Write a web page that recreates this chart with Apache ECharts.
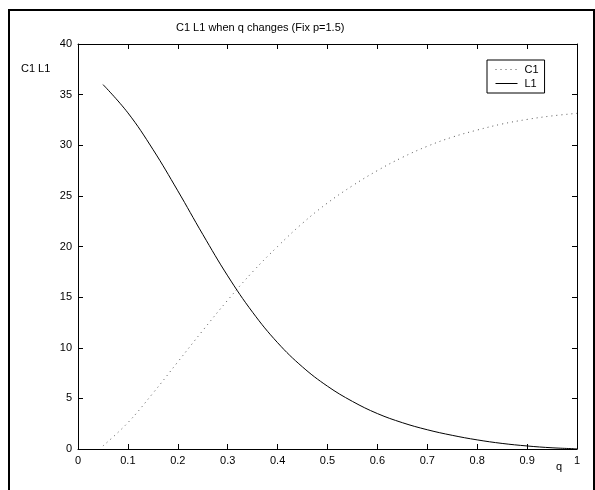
<!DOCTYPE html>
<html>
<head>
<meta charset="utf-8">
<script src="https://cdn.jsdelivr.net/npm/echarts@6/dist/echarts.min.js"></script>
<style>
  html, body { margin: 0; padding: 0; background: #fff; }
  #main { width: 595px; height: 490px; }
</style>
</head>
<body>
<div id="main"></div>
<script>
// q samples and the two curves
var qValues  = [0.05, 0.10, 0.15, 0.20, 0.25, 0.30, 0.35, 0.40, 0.45, 0.50,
                0.55, 0.60, 0.65, 0.70, 0.75, 0.80, 0.85, 0.90, 0.95, 1.00];
var c1Values = [0.3, 2.6, 5.5, 8.6, 11.7, 14.7, 17.5, 20.0, 22.3, 24.3,
                26.0, 27.5, 28.8, 29.9, 30.8, 31.5, 32.1, 32.55, 32.9, 33.15];
var l1Values = [36.0, 33.2, 29.6, 25.5, 21.2, 17.1, 13.5, 10.5, 8.1, 6.2,
                4.7, 3.5, 2.6, 1.9, 1.35, 0.9, 0.55, 0.3, 0.12, 0.02];

var titleText = 'C1 L1 when q changes (Fix p=1.5)';
var font = 'Liberation Sans, Arial, sans-serif';

function pairs(ys) {
  return qValues.map(function (q, i) { return [q, ys[i]]; });
}

var chart = echarts.init(document.getElementById('main'));

var tickStyle = { show: true, inside: true, length: 5, lineStyle: { color: '#000', width: 1 } };
var lineStyle = { show: true, onZero: false, lineStyle: { color: '#000', width: 1 } };

var option = {
  backgroundColor: '#fff',
  animation: false,
  textStyle: { fontFamily: font },
  grid: { left: 78, top: 44, right: 18, bottom: 41, containLabel: false },
  legend: {
    orient: 'vertical',
    left: 487,
    top: 60,
    itemWidth: 22,
    itemHeight: 10,
    itemGap: 3,
    padding: [4, 6, 4, 8],
    backgroundColor: '#fff',
    borderColor: '#000',
    borderWidth: 1,
    borderRadius: 0,
    itemStyle: { opacity: 0 },
    lineStyle: { width: 1 },
    textStyle: { color: '#000', fontSize: 11, fontFamily: font, padding: [0, 0, 0, 2] },
    data: ['C1', 'L1']
  },
  xAxis: [
    {
      type: 'value', min: 0, max: 1, interval: 0.1,
      axisLine: lineStyle, axisTick: tickStyle, splitLine: { show: false },
      axisLabel: { color: '#000', fontSize: 11, margin: 6, fontFamily: font }
    },
    {
      type: 'value', position: 'top', min: 0, max: 1, interval: 0.1,
      axisLine: lineStyle, axisTick: tickStyle, splitLine: { show: false },
      axisLabel: { show: false }
    }
  ],
  yAxis: [
    {
      type: 'value', min: 0, max: 40, interval: 5,
      axisLine: lineStyle, axisTick: tickStyle, splitLine: { show: false },
      axisLabel: { color: '#000', fontSize: 11, margin: 6, fontFamily: font }
    },
    {
      type: 'value', position: 'right', min: 0, max: 40, interval: 5,
      axisLine: lineStyle, axisTick: tickStyle, splitLine: { show: false },
      axisLabel: { show: false }
    }
  ],
  series: [
    {
      name: 'C1', type: 'line', smooth: 0.4, symbol: 'none',
      lineStyle: { color: '#555', width: 1, type: [1, 4] },
      itemStyle: { color: '#555' },
      data: pairs(c1Values)
    },
    {
      name: 'L1', type: 'line', smooth: 0.4, symbol: 'none',
      lineStyle: { color: '#000', width: 1 },
      itemStyle: { color: '#000' },
      data: pairs(l1Values)
    }
  ],
  graphic: [
    {
      type: 'rect', silent: true, z: 100,
      shape: { x: 9, y: 10, width: 585, height: 500 },
      style: { fill: 'none', stroke: '#000', lineWidth: 2 }
    },
    {
      type: 'text', left: 176, top: 22,
      style: { text: titleText, fill: '#000', font: '11px ' + font }
    },
    {
      type: 'text', left: 21, top: 63,
      style: { text: 'C1 L1', fill: '#000', font: '11px ' + font }
    },
    {
      type: 'text', left: 556, top: 461,
      style: { text: 'q', fill: '#000', font: '11px ' + font }
    }
  ]
};

chart.setOption(option);
</script>
</body>
</html>
